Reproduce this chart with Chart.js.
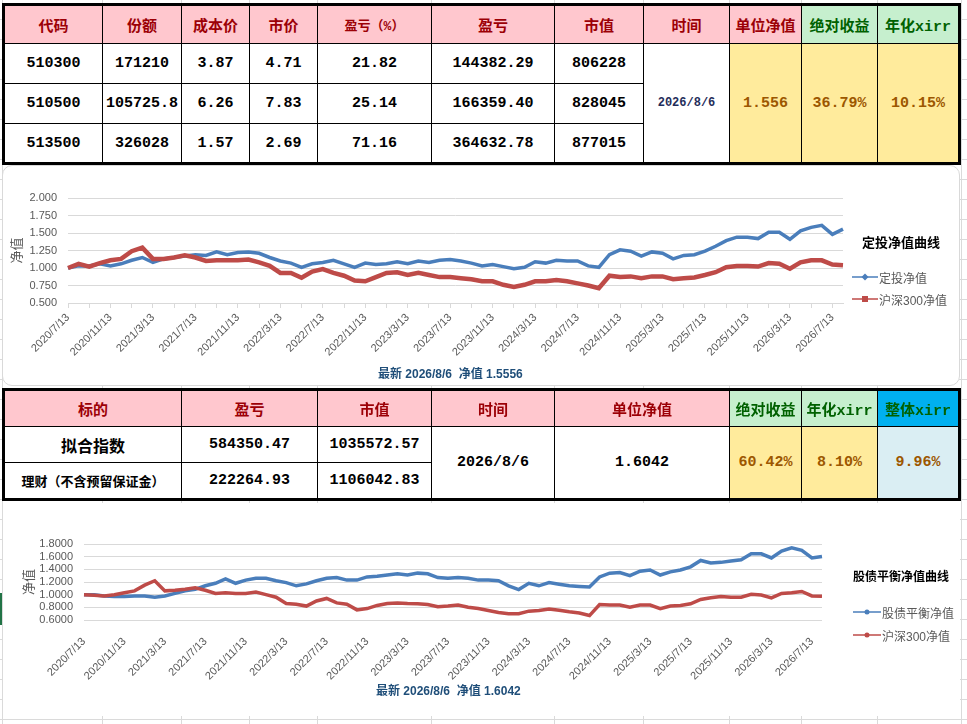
<!DOCTYPE html>
<html>
<head>
<meta charset="utf-8">
<script src="https://cdn.jsdelivr.net/npm/chart.js@4.4.1/dist/chart.umd.min.js"></script>
<style>
html, body { margin: 0; padding: 0; background: #fff; }
#page {
  position: relative; width: 967px; height: 724px; overflow: hidden; background: #fff;
  background-image: repeating-linear-gradient(to bottom, transparent 0 19px, #dadada 19px 20px);
}
.vl { position: absolute; top: 0; width: 1px; height: 724px; background: #dadada; }
table.t { position: absolute; border-collapse: collapse; table-layout: fixed; border: 3px solid #000; background: #fff; }
table.t td {
  border: 1px solid #000; text-align: center; vertical-align: middle; padding: 0;
  font: bold 15px "Liberation Mono", "Noto Sans CJK SC", monospace; color: #000;
  white-space: nowrap; overflow: hidden;
}
td.h { background: #FFC7CE; color: #9C0006 !important; }
td.g { background: #C6EFCE; color: #006100 !important; }
td.b { background: #00B0F0; color: #006100 !important; }
td.y { background: #FFEB9C; color: #9C5700 !important; }
td.lb { background: #DAEEF3; color: #9C5700 !important; }
.box { position: absolute; background: #fff; overflow: hidden; box-sizing: border-box; }
#box1 { left: 2px; top: 165px; width: 958px; height: 221px; border: 1px solid #d9d9d9; border-radius: 10px; }
#box2 { left: 3px; top: 503px; width: 957px; height: 213px; }
.box canvas { position: absolute; left: 0; top: 0; }
.lgt { position: absolute; font: bold 13px "Noto Sans CJK SC", sans-serif; color: #000; line-height: 18px; white-space: nowrap; }
.lgi { position: absolute; height: 16px; display: flex; align-items: center; white-space: nowrap;
  font: 12px "Liberation Sans", "Noto Sans CJK SC", sans-serif; color: #595959; }
.lgi svg { margin-right: 1px; }
.sub { position: absolute; font: bold 12px "Liberation Sans", "Noto Sans CJK SC", sans-serif; color: #1F4E79; line-height: 16px; white-space: pre; }
</style>
</head>
<body>
<div id="page">
  <div class="vl" style="left:2px"></div>
  <div class="vl" style="left:102px"></div>
  <div class="vl" style="left:181px"></div>
  <div class="vl" style="left:249px"></div>
  <div class="vl" style="left:317px"></div>
  <div class="vl" style="left:431px"></div>
  <div class="vl" style="left:554px"></div>
  <div class="vl" style="left:643px"></div>
  <div class="vl" style="left:729px"></div>
  <div class="vl" style="left:801px"></div>
  <div class="vl" style="left:877px"></div>
  <div class="vl" style="left:961px"></div>

  <table class="t" style="left:2px;top:3px;">
    <colgroup>
      <col style="width:99px"><col style="width:79px"><col style="width:68px"><col style="width:68px">
      <col style="width:114px"><col style="width:123px"><col style="width:89px"><col style="width:86px">
      <col style="width:72px"><col style="width:76px"><col style="width:82px">
    </colgroup>
    <tr style="height:39px">
      <td class="h">代码</td><td class="h">份额</td><td class="h">成本价</td><td class="h">市价</td>
      <td class="h" style="font-size:13px">盈亏（%）</td><td class="h">盈亏</td><td class="h">市值</td>
      <td class="h">时间</td><td class="h">单位净值</td><td class="g">绝对收益</td><td class="g">年化xirr</td>
    </tr>
    <tr style="height:40px">
      <td>510300</td><td>171210</td><td>3.87</td><td>4.71</td><td>21.82</td><td>144382.29</td><td>806228</td>
      <td rowspan="3" style="font-size:12px;color:#1F2D5A">2026/8/6</td>
      <td rowspan="3" class="y">1.556</td><td rowspan="3" class="y">36.79%</td><td rowspan="3" class="y">10.15%</td>
    </tr>
    <tr style="height:40px">
      <td>510500</td><td>105725.8</td><td>6.26</td><td>7.83</td><td>25.14</td><td>166359.40</td><td>828045</td>
    </tr>
    <tr style="height:40px">
      <td>513500</td><td>326028</td><td>1.57</td><td>2.69</td><td>71.16</td><td>364632.78</td><td>877015</td>
    </tr>
  </table>

  <div class="box" id="box1"><canvas id="c1" width="956" height="219"></canvas></div>
  <div class="lgt" style="left:862px;top:233px;">定投净值曲线</div>
  <div class="lgi" style="left:852px;top:269px;">
    <svg width="26" height="8"><line x1="0" y1="4" x2="26" y2="4" stroke="#4A7EBB" stroke-width="1.5"/><path d="M13 0.5 L16.5 4 L13 7.5 L9.5 4Z" fill="#4A7EBB"/></svg>定投净值</div>
  <div class="lgi" style="left:852px;top:291px;">
    <svg width="26" height="8"><line x1="0" y1="4" x2="26" y2="4" stroke="#BE4B48" stroke-width="1.5"/><rect x="10" y="1" width="6" height="6" fill="#BE4B48"/></svg>沪深300净值</div>
  <div class="sub" style="left:378px;top:366px;">最新 2026/8/6  净值 1.5556</div>

  <table class="t" style="left:2px;top:388px;">
    <colgroup>
      <col style="width:178px"><col style="width:136px"><col style="width:114px"><col style="width:123px">
      <col style="width:175px"><col style="width:72px"><col style="width:76px"><col style="width:82px">
    </colgroup>
    <tr style="height:37px">
      <td class="h">标的</td><td class="h">盈亏</td><td class="h">市值</td><td class="h">时间</td>
      <td class="h">单位净值</td><td class="g">绝对收益</td><td class="g">年化xirr</td><td class="b">整体xirr</td>
    </tr>
    <tr style="height:36px">
      <td style="font-size:16px">拟合指数</td><td>584350.47</td><td>1035572.57</td>
      <td rowspan="2">2026/8/6</td><td rowspan="2">1.6042</td>
      <td rowspan="2" class="y">60.42%</td><td rowspan="2" class="y">8.10%</td><td rowspan="2" class="lb">9.96%</td>
    </tr>
    <tr style="height:37px">
      <td style="font-size:13px">理财（不含预留保证金）</td><td>222264.93</td><td>1106042.83</td>
    </tr>
  </table>

  <div class="box" id="box2"><canvas id="c2" width="957" height="213"></canvas></div>
  <div style="position:absolute;left:0;top:593px;width:2px;height:32px;background:#217346"></div>
  <div class="lgt" style="left:853px;top:567px;font-size:12px;">股债平衡净值曲线</div>
  <div class="lgi" style="left:853px;top:604px;">
    <svg width="28" height="8"><line x1="0" y1="4" x2="28" y2="4" stroke="#4A7EBB" stroke-width="1.5"/><circle cx="14" cy="4" r="2.5" fill="#4A7EBB"/></svg>股债平衡净值</div>
  <div class="lgi" style="left:853px;top:627px;">
    <svg width="28" height="8"><line x1="0" y1="4" x2="28" y2="4" stroke="#BE4B48" stroke-width="1.5"/><circle cx="14" cy="4" r="2.5" fill="#BE4B48"/></svg>沪深300净值</div>
  <div class="sub" style="left:376px;top:683px;">最新 2026/8/6  净值 1.6042</div>
</div>

<script>
// monthly sample dates (13th of each month, last point is the latest day)
const dates = [
  "2020/7/13","2020/8/13","2020/9/13","2020/10/13","2020/11/13","2020/12/13",
  "2021/1/13","2021/2/13","2021/3/13","2021/4/13","2021/5/13","2021/6/13","2021/7/13","2021/8/13","2021/9/13","2021/10/13","2021/11/13","2021/12/13",
  "2022/1/13","2022/2/13","2022/3/13","2022/4/13","2022/5/13","2022/6/13","2022/7/13","2022/8/13","2022/9/13","2022/10/13","2022/11/13","2022/12/13",
  "2023/1/13","2023/2/13","2023/3/13","2023/4/13","2023/5/13","2023/6/13","2023/7/13","2023/8/13","2023/9/13","2023/10/13","2023/11/13","2023/12/13",
  "2024/1/13","2024/2/13","2024/3/13","2024/4/13","2024/5/13","2024/6/13","2024/7/13","2024/8/13","2024/9/13","2024/10/13","2024/11/13","2024/12/13",
  "2025/1/13","2025/2/13","2025/3/13","2025/4/13","2025/5/13","2025/6/13","2025/7/13","2025/8/13","2025/9/13","2025/10/13","2025/11/13","2025/12/13",
  "2026/1/13","2026/2/13","2026/3/13","2026/4/13","2026/5/13","2026/6/13","2026/7/13","2026/8/6"
];

const tickLabels = [
  "2020/7/13","2020/11/13","2021/3/13","2021/7/13","2021/11/13","2022/3/13","2022/7/13",
  "2022/11/13","2023/3/13","2023/7/13","2023/11/13","2024/3/13","2024/7/13","2024/11/13",
  "2025/3/13","2025/7/13","2025/11/13","2026/3/13","2026/7/13"
];

// chart 1: 定投净值 vs 沪深300
const dtNav = [
  1.00,1.03,1.03,1.06,1.03,1.06,1.11,1.15,1.08,1.13,1.15,1.17,1.19,1.18,1.23,1.19,1.22,1.23,
  1.21,1.15,1.10,1.07,1.01,1.06,1.08,1.11,1.06,1.01,1.07,1.05,1.06,1.09,1.06,1.10,1.08,1.11,
  1.12,1.10,1.07,1.03,1.05,1.02,0.99,1.01,1.09,1.07,1.11,1.10,1.10,1.03,1.01,1.19,1.26,1.24,
  1.17,1.23,1.21,1.13,1.18,1.19,1.24,1.31,1.39,1.44,1.44,1.42,1.51,1.51,1.41,1.53,1.58,1.61,
  1.48,1.5556
];
const hs300A = [
  1.00,1.06,1.02,1.07,1.11,1.13,1.24,1.29,1.13,1.13,1.15,1.18,1.15,1.10,1.11,1.11,1.11,1.12,
  1.08,1.03,0.93,0.93,0.86,0.95,0.985,0.93,0.89,0.82,0.81,0.87,0.93,0.94,0.90,0.93,0.90,0.87,
  0.87,0.855,0.84,0.81,0.81,0.76,0.73,0.76,0.81,0.81,0.83,0.81,0.78,0.75,0.71,0.89,0.87,0.88,
  0.855,0.88,0.88,0.84,0.855,0.865,0.90,0.94,1.01,1.03,1.03,1.02,1.07,1.06,0.99,1.08,1.11,1.11,
  1.05,1.04
];

// chart 2: 股债平衡净值 vs 沪深300
const gzNav = [
  1.00,1.00,0.98,0.97,0.97,0.98,0.98,0.96,0.98,1.02,1.06,1.085,1.14,1.18,1.25,1.18,1.23,1.26,
  1.26,1.22,1.19,1.14,1.17,1.22,1.26,1.27,1.23,1.23,1.28,1.29,1.31,1.33,1.31,1.34,1.33,1.27,
  1.26,1.27,1.26,1.23,1.23,1.22,1.14,1.08,1.18,1.14,1.19,1.165,1.14,1.13,1.12,1.28,1.34,1.35,
  1.30,1.37,1.39,1.31,1.36,1.39,1.44,1.54,1.50,1.51,1.53,1.55,1.645,1.645,1.58,1.69,1.74,1.70,
  1.58,1.6042
];
const hs300B = [
  1.00,0.99,0.98,1.00,1.03,1.06,1.15,1.22,1.06,1.07,1.085,1.11,1.07,1.02,1.03,1.02,1.02,1.04,
  1.00,0.96,0.86,0.85,0.82,0.90,0.94,0.87,0.85,0.76,0.78,0.83,0.86,0.87,0.86,0.855,0.845,0.81,
  0.82,0.835,0.80,0.78,0.75,0.72,0.70,0.70,0.74,0.75,0.775,0.755,0.73,0.71,0.67,0.845,0.835,0.835,
  0.80,0.835,0.835,0.78,0.82,0.83,0.855,0.925,0.95,0.97,0.96,0.96,1.005,0.995,0.95,1.02,1.03,1.05,
  0.98,0.975
];

const yRangeA = [0.5, 2.0, 0.25];
const yRangeB = [0.6, 1.8, 0.2];

const BLUE = '#4A7EBB';
const RED = '#BE4B48';
const GRID = '#d9d9d9';
const TXT = '#595959';

function makeChart(id, blueName, blueData, redName, redData, yr, digits, cfg) {
  return new Chart(document.getElementById(id), {
    type: 'line',
    data: {
      labels: dates,
      datasets: [
        { label: blueName, data: blueData, borderColor: BLUE, backgroundColor: BLUE,
          borderWidth: cfg.blueW, pointRadius: 0, tension: 0, order: 1 },
        { label: redName, data: redData, borderColor: RED, backgroundColor: RED,
          borderWidth: cfg.redW, pointRadius: 0, tension: 0, order: 0 }
      ]
    },
    options: {
      responsive: false,
      animation: false,
      events: [],
      layout: { padding: cfg.padding },
      plugins: { legend: { display: false }, tooltip: { enabled: false } },
      scales: {
        x: {
          ticks: {
            autoSkip: false, minRotation: 45, maxRotation: 45, padding: cfg.xPad,
            color: TXT, font: { family: 'Liberation Sans', size: 11 },
            callback: function (v) {
              const l = this.getLabelForValue(v);
              return tickLabels.includes(l) ? l : '';
            }
          },
          grid: {
            display: cfg.xTicks, drawOnChartArea: false, tickLength: 5,
            tickColor: (c) => (c.index % 2 === 0 ? GRID : 'rgba(0,0,0,0)')
          },
          border: { display: cfg.xTicks, color: GRID },
          afterFit: (s) => { s.height = cfg.xHeight; }
        },
        y: {
          min: yr[0], max: yr[1],
          ticks: {
            stepSize: yr[2], autoSkip: false, padding: 11, color: TXT,
            font: { family: 'Liberation Sans', size: 11 },
            callback: (v) => Number(v).toFixed(digits)
          },
          grid: { color: GRID, drawTicks: false },
          border: { display: false },
          title: {
            display: true, text: '净值', color: TXT,
            font: { family: 'Noto Sans CJK SC', size: 13 },
            padding: { top: cfg.titlePad, bottom: 0 }
          },
          afterFit: (s) => { s.width = cfg.yWidth; }
        }
      }
    }
  });
}

makeChart('c1', '定投净值', dtNav, '沪深300净值', hs300A, yRangeA, 3, {
  padding: { left: 0, top: 32, right: 116, bottom: 0 },
  xHeight: 82, yWidth: 65, titlePad: 5, xPad: 3, xTicks: true, blueW: 3.5, redW: 4.5
});

makeChart('c2', '股债平衡净值', gzNav, '沪深300净值', hs300B, yRangeB, 4, {
  padding: { left: 0, top: 41, right: 138, bottom: 0 },
  xHeight: 96, yWidth: 81, titlePad: 17, xPad: 10, xTicks: false, blueW: 3.5, redW: 3.5
});
</script>
</body>
</html>
